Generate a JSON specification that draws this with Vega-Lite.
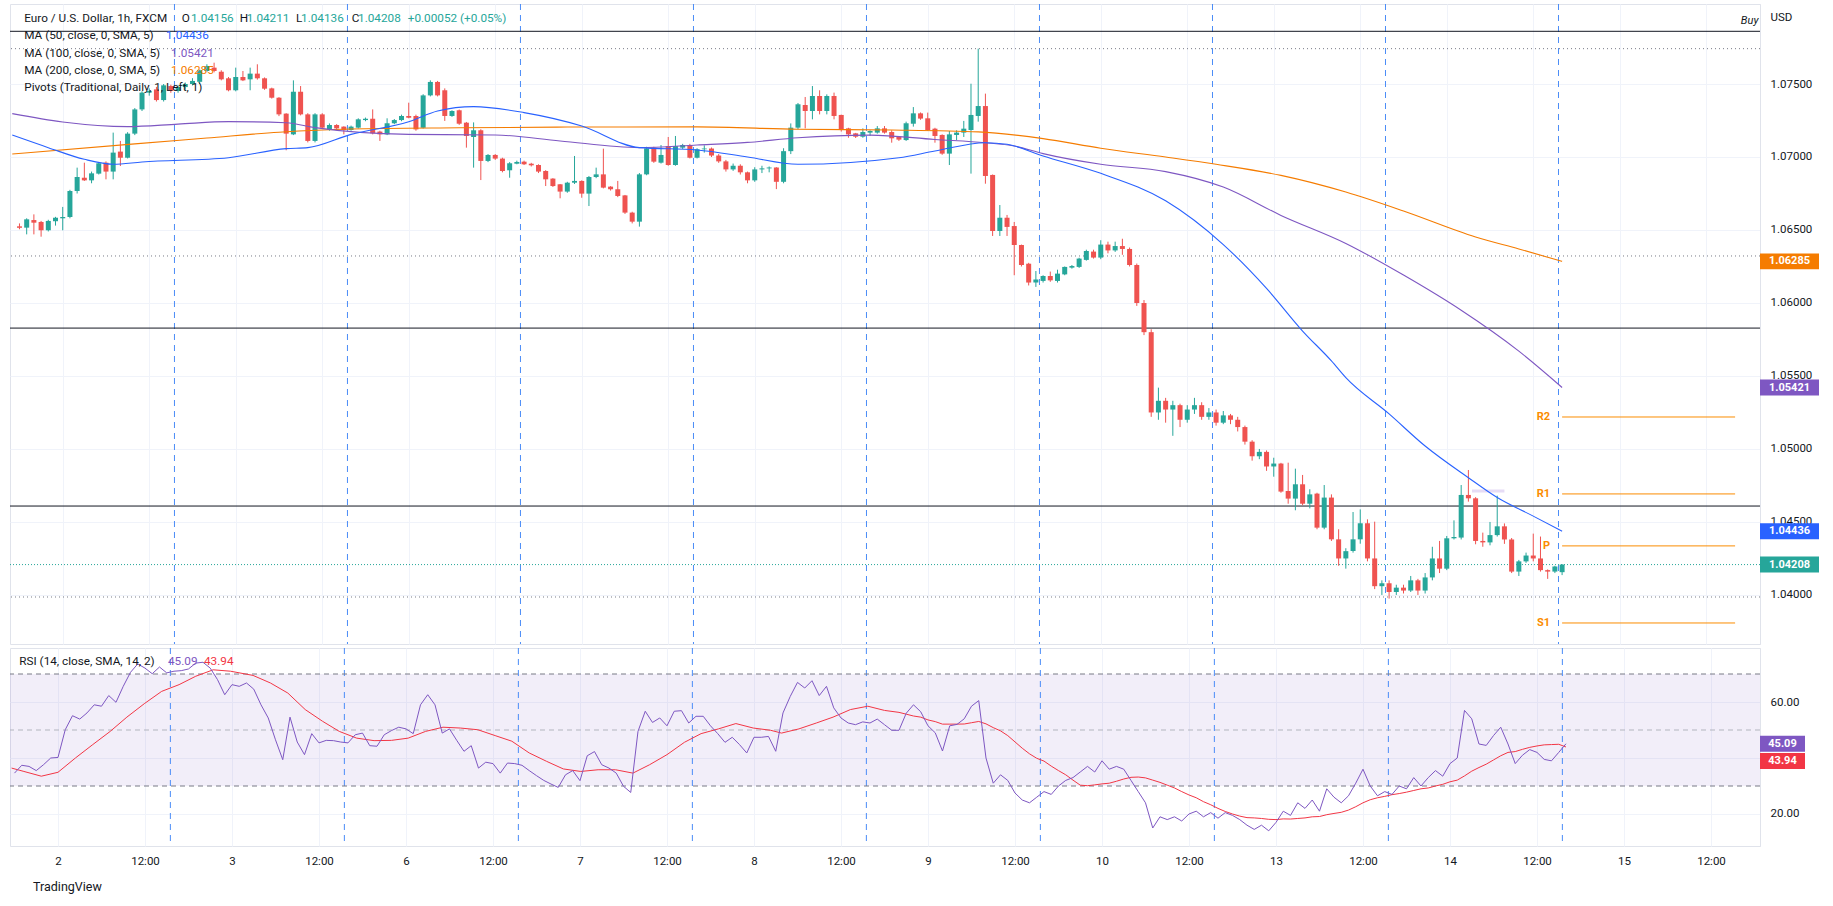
{
  "$schema": "https://vega.github.io/schema/vega-lite/v6.json",
  "background": "#ffffff",
  "padding": {"left": 9, "top": 3, "right": 5, "bottom": 5},
  "spacing": 2,
  "config": {"font": "Roboto", "view": {"stroke": "#E0E3EB", "strokeWidth": 1}},
  "title": {"text": "TradingView", "orient": "bottom", "anchor": "start", "fontSize": 12.5, "fontWeight": "normal", "color": "#131722", "offset": 14, "dx": 24, "font": "Roboto"},
  "datasets": {
    "candles": [
      {"i":-6,"o":1.06525,"h":1.06545,"l":1.06505,"c":1.06515},
      {"i":-5,"o":1.06516,"h":1.0658,"l":1.0647,"c":1.06573},
      {"i":-4,"o":1.06568,"h":1.06607,"l":1.0647,"c":1.0655},
      {"i":-3,"o":1.06555,"h":1.06562,"l":1.06454,"c":1.06498},
      {"i":-2,"o":1.06498,"h":1.0657,"l":1.0649,"c":1.06562},
      {"i":-1,"o":1.0656,"h":1.0659,"l":1.0653,"c":1.06584},
      {"i":0,"o":1.0658,"h":1.06658,"l":1.06498,"c":1.06589},
      {"i":1,"o":1.06589,"h":1.06775,"l":1.0658,"c":1.06767},
      {"i":2,"o":1.06767,"h":1.06927,"l":1.0675,"c":1.06863},
      {"i":3,"o":1.06858,"h":1.06961,"l":1.06836,"c":1.0684},
      {"i":4,"o":1.0684,"h":1.069,"l":1.0682,"c":1.06888},
      {"i":5,"o":1.06886,"h":1.06965,"l":1.0688,"c":1.06957},
      {"i":6,"o":1.06961,"h":1.0697,"l":1.06847,"c":1.069},
      {"i":7,"o":1.069,"h":1.07167,"l":1.06847,"c":1.0703},
      {"i":8,"o":1.07037,"h":1.0711,"l":1.06938,"c":1.06995},
      {"i":9,"o":1.06995,"h":1.0717,"l":1.0699,"c":1.0716},
      {"i":10,"o":1.0716,"h":1.07335,"l":1.0715,"c":1.07326},
      {"i":11,"o":1.07326,"h":1.0745,"l":1.07315,"c":1.07441},
      {"i":12,"o":1.07441,"h":1.0747,"l":1.0742,"c":1.07452},
      {"i":13,"o":1.07463,"h":1.0748,"l":1.0738,"c":1.0739},
      {"i":14,"o":1.0739,"h":1.075,"l":1.0738,"c":1.07491},
      {"i":15,"o":1.07486,"h":1.07495,"l":1.0744,"c":1.07452},
      {"i":16,"o":1.07452,"h":1.0749,"l":1.0744,"c":1.07479},
      {"i":17,"o":1.07479,"h":1.0751,"l":1.0746,"c":1.075},
      {"i":18,"o":1.075,"h":1.0754,"l":1.0749,"c":1.07521},
      {"i":19,"o":1.07515,"h":1.076,"l":1.075,"c":1.07594},
      {"i":20,"o":1.07589,"h":1.07635,"l":1.0758,"c":1.07623},
      {"i":21,"o":1.07612,"h":1.07646,"l":1.0758,"c":1.07589},
      {"i":22,"o":1.07584,"h":1.07594,"l":1.07525,"c":1.07532},
      {"i":23,"o":1.07539,"h":1.07548,"l":1.0745,"c":1.07457},
      {"i":24,"o":1.07457,"h":1.07612,"l":1.0745,"c":1.07548},
      {"i":25,"o":1.07548,"h":1.07589,"l":1.0752,"c":1.07525},
      {"i":26,"o":1.07532,"h":1.07612,"l":1.07457,"c":1.07571},
      {"i":27,"o":1.07571,"h":1.07635,"l":1.0753,"c":1.07539},
      {"i":28,"o":1.07539,"h":1.07545,"l":1.0746,"c":1.07468},
      {"i":29,"o":1.0747,"h":1.07475,"l":1.074,"c":1.07406},
      {"i":30,"o":1.07406,"h":1.0741,"l":1.0728,"c":1.07292},
      {"i":31,"o":1.07297,"h":1.073,"l":1.07046,"c":1.0716},
      {"i":32,"o":1.07155,"h":1.07525,"l":1.0715,"c":1.07447},
      {"i":33,"o":1.07447,"h":1.07486,"l":1.07285,"c":1.07292},
      {"i":34,"o":1.07292,"h":1.073,"l":1.071,"c":1.0711},
      {"i":35,"o":1.0711,"h":1.073,"l":1.071,"c":1.07292},
      {"i":36,"o":1.07292,"h":1.073,"l":1.07195,"c":1.07201},
      {"i":37,"o":1.07189,"h":1.0723,"l":1.0718,"c":1.07219},
      {"i":38,"o":1.07219,"h":1.07225,"l":1.07185,"c":1.07196},
      {"i":39,"o":1.07208,"h":1.0721,"l":1.07155,"c":1.07185},
      {"i":40,"o":1.07185,"h":1.07215,"l":1.0718,"c":1.07208},
      {"i":41,"o":1.07201,"h":1.07265,"l":1.07195,"c":1.07258},
      {"i":42,"o":1.07253,"h":1.0727,"l":1.07245,"c":1.07262},
      {"i":43,"o":1.07262,"h":1.07326,"l":1.07155,"c":1.07162},
      {"i":44,"o":1.07174,"h":1.0718,"l":1.0711,"c":1.07155},
      {"i":45,"o":1.07155,"h":1.07265,"l":1.0715,"c":1.07231},
      {"i":46,"o":1.07231,"h":1.0726,"l":1.07225,"c":1.07253},
      {"i":47,"o":1.07253,"h":1.0729,"l":1.07245,"c":1.07281},
      {"i":48,"o":1.07281,"h":1.07372,"l":1.07265,"c":1.07269},
      {"i":49,"o":1.07281,"h":1.0729,"l":1.0718,"c":1.07189},
      {"i":50,"o":1.072,"h":1.0743,"l":1.07195,"c":1.07422},
      {"i":51,"o":1.07422,"h":1.07525,"l":1.07415,"c":1.07514},
      {"i":52,"o":1.07514,"h":1.07521,"l":1.07415,"c":1.07422},
      {"i":53,"o":1.07457,"h":1.0747,"l":1.07247,"c":1.07281},
      {"i":54,"o":1.07281,"h":1.0732,"l":1.07275,"c":1.07315},
      {"i":55,"o":1.0732,"h":1.07325,"l":1.0722,"c":1.07228},
      {"i":56,"o":1.07235,"h":1.0724,"l":1.07064,"c":1.07144},
      {"i":57,"o":1.07137,"h":1.07237,"l":1.06927,"c":1.07183},
      {"i":58,"o":1.07183,"h":1.0719,"l":1.06842,"c":1.06973},
      {"i":59,"o":1.06973,"h":1.0702,"l":1.06965,"c":1.07014},
      {"i":60,"o":1.07014,"h":1.0702,"l":1.0698,"c":1.06989},
      {"i":61,"o":1.06989,"h":1.06995,"l":1.06895,"c":1.06904},
      {"i":62,"o":1.06909,"h":1.06965,"l":1.06858,"c":1.06957},
      {"i":63,"o":1.06954,"h":1.06975,"l":1.0695,"c":1.06966},
      {"i":64,"o":1.06968,"h":1.06975,"l":1.06945,"c":1.0695},
      {"i":65,"o":1.06954,"h":1.0696,"l":1.06935,"c":1.06943},
      {"i":66,"o":1.06945,"h":1.0695,"l":1.0689,"c":1.069},
      {"i":67,"o":1.06904,"h":1.0691,"l":1.06801,"c":1.06847},
      {"i":68,"o":1.06852,"h":1.06855,"l":1.06795,"c":1.06801},
      {"i":69,"o":1.06813,"h":1.06815,"l":1.06717,"c":1.06763},
      {"i":70,"o":1.06763,"h":1.0683,"l":1.06755,"c":1.06824},
      {"i":71,"o":1.06824,"h":1.07007,"l":1.06815,"c":1.06836},
      {"i":72,"o":1.06836,"h":1.0684,"l":1.06721,"c":1.06749},
      {"i":73,"o":1.06749,"h":1.0687,"l":1.06664,"c":1.06863},
      {"i":74,"o":1.06863,"h":1.06927,"l":1.06855,"c":1.06881},
      {"i":75,"o":1.06881,"h":1.07057,"l":1.06785,"c":1.0679},
      {"i":76,"o":1.06797,"h":1.068,"l":1.0677,"c":1.06779},
      {"i":77,"o":1.06779,"h":1.06836,"l":1.06725,"c":1.06733},
      {"i":78,"o":1.06737,"h":1.0674,"l":1.0661,"c":1.06619},
      {"i":79,"o":1.06619,"h":1.06625,"l":1.06545,"c":1.06557},
      {"i":80,"o":1.06557,"h":1.0689,"l":1.06523,"c":1.06881},
      {"i":81,"o":1.06881,"h":1.0707,"l":1.06875,"c":1.07059},
      {"i":82,"o":1.07064,"h":1.0707,"l":1.0696,"c":1.06968},
      {"i":83,"o":1.06961,"h":1.07082,"l":1.06955,"c":1.07014},
      {"i":84,"o":1.07075,"h":1.07137,"l":1.0694,"c":1.06945},
      {"i":85,"o":1.06945,"h":1.07144,"l":1.0694,"c":1.07075},
      {"i":86,"o":1.07064,"h":1.0709,"l":1.07055,"c":1.07082},
      {"i":87,"o":1.07082,"h":1.0709,"l":1.0699,"c":1.06995},
      {"i":88,"o":1.06995,"h":1.0706,"l":1.0699,"c":1.07053},
      {"i":89,"o":1.07053,"h":1.0708,"l":1.0703,"c":1.07058},
      {"i":90,"o":1.07058,"h":1.07065,"l":1.07,"c":1.0701},
      {"i":91,"o":1.0701,"h":1.0702,"l":1.0696,"c":1.0697},
      {"i":92,"o":1.0697,"h":1.0698,"l":1.069,"c":1.06915},
      {"i":93,"o":1.06915,"h":1.06955,"l":1.06905,"c":1.0694},
      {"i":94,"o":1.0694,"h":1.0695,"l":1.0688,"c":1.06895},
      {"i":95,"o":1.06895,"h":1.069,"l":1.0682,"c":1.0684},
      {"i":96,"o":1.0684,"h":1.0693,"l":1.0683,"c":1.06915},
      {"i":97,"o":1.06915,"h":1.0694,"l":1.0689,"c":1.06922},
      {"i":98,"o":1.06922,"h":1.06935,"l":1.06895,"c":1.06928},
      {"i":99,"o":1.06928,"h":1.0693,"l":1.0678,"c":1.0683},
      {"i":100,"o":1.0683,"h":1.0706,"l":1.0682,"c":1.0704},
      {"i":101,"o":1.0704,"h":1.0723,"l":1.0702,"c":1.07201},
      {"i":102,"o":1.07201,"h":1.0737,"l":1.0719,"c":1.07361},
      {"i":103,"o":1.07356,"h":1.07411,"l":1.07196,"c":1.07315},
      {"i":104,"o":1.07315,"h":1.07486,"l":1.07258,"c":1.07418},
      {"i":105,"o":1.07418,"h":1.07457,"l":1.07292,"c":1.07315},
      {"i":106,"o":1.07315,"h":1.07429,"l":1.07292,"c":1.07418},
      {"i":107,"o":1.07418,"h":1.07441,"l":1.07258,"c":1.07281},
      {"i":108,"o":1.07288,"h":1.0729,"l":1.07174,"c":1.07189},
      {"i":109,"o":1.07196,"h":1.072,"l":1.07132,"c":1.07155},
      {"i":110,"o":1.07162,"h":1.07165,"l":1.0713,"c":1.07139},
      {"i":111,"o":1.07139,"h":1.07196,"l":1.07132,"c":1.07171},
      {"i":112,"o":1.07167,"h":1.07183,"l":1.07144,"c":1.07178},
      {"i":113,"o":1.07167,"h":1.07212,"l":1.0716,"c":1.07196},
      {"i":114,"o":1.07196,"h":1.07212,"l":1.0716,"c":1.07167},
      {"i":115,"o":1.07171,"h":1.07183,"l":1.07098,"c":1.07128},
      {"i":116,"o":1.07139,"h":1.0714,"l":1.0711,"c":1.07119},
      {"i":117,"o":1.07116,"h":1.07242,"l":1.0711,"c":1.07231},
      {"i":118,"o":1.07228,"h":1.07342,"l":1.07208,"c":1.07299},
      {"i":119,"o":1.07299,"h":1.07305,"l":1.07255,"c":1.07263},
      {"i":120,"o":1.07265,"h":1.07304,"l":1.0718,"c":1.07185},
      {"i":121,"o":1.07194,"h":1.072,"l":1.07098,"c":1.07144},
      {"i":122,"o":1.07151,"h":1.07155,"l":1.07015,"c":1.07023},
      {"i":123,"o":1.07023,"h":1.07178,"l":1.06945,"c":1.07155},
      {"i":124,"o":1.07151,"h":1.07183,"l":1.07116,"c":1.07167},
      {"i":125,"o":1.07167,"h":1.07247,"l":1.07137,"c":1.07194},
      {"i":126,"o":1.07185,"h":1.07502,"l":1.06886,"c":1.07288},
      {"i":127,"o":1.07281,"h":1.07742,"l":1.07242,"c":1.07349},
      {"i":128,"o":1.07349,"h":1.07434,"l":1.06817,"c":1.0687},
      {"i":129,"o":1.06877,"h":1.0688,"l":1.06459,"c":1.06493},
      {"i":130,"o":1.06493,"h":1.06671,"l":1.06459,"c":1.06584},
      {"i":131,"o":1.06584,"h":1.06603,"l":1.06459,"c":1.06521},
      {"i":132,"o":1.06527,"h":1.06555,"l":1.0619,"c":1.06397},
      {"i":133,"o":1.06397,"h":1.064,"l":1.0625,"c":1.0626},
      {"i":134,"o":1.06269,"h":1.06275,"l":1.0612,"c":1.0614},
      {"i":135,"o":1.0614,"h":1.06219,"l":1.0611,"c":1.0616},
      {"i":136,"o":1.06151,"h":1.0619,"l":1.0614,"c":1.06185},
      {"i":137,"o":1.06185,"h":1.06215,"l":1.06145,"c":1.06155},
      {"i":138,"o":1.06151,"h":1.06228,"l":1.0614,"c":1.06201},
      {"i":139,"o":1.06196,"h":1.0625,"l":1.0619,"c":1.06247},
      {"i":140,"o":1.06242,"h":1.0626,"l":1.06235,"c":1.06253},
      {"i":141,"o":1.06247,"h":1.0631,"l":1.0624,"c":1.06304},
      {"i":142,"o":1.06295,"h":1.06365,"l":1.0629,"c":1.06356},
      {"i":143,"o":1.06352,"h":1.06365,"l":1.06304,"c":1.06311},
      {"i":144,"o":1.06311,"h":1.0643,"l":1.063,"c":1.064},
      {"i":145,"o":1.064,"h":1.0642,"l":1.0634,"c":1.0636},
      {"i":146,"o":1.0636,"h":1.0642,"l":1.0635,"c":1.0639},
      {"i":147,"o":1.0639,"h":1.0644,"l":1.0633,"c":1.0637},
      {"i":148,"o":1.0637,"h":1.0638,"l":1.0625,"c":1.0626},
      {"i":149,"o":1.0626,"h":1.0627,"l":1.0598,"c":1.06},
      {"i":150,"o":1.06,"h":1.0602,"l":1.0578,"c":1.058},
      {"i":151,"o":1.058,"h":1.0582,"l":1.0522,"c":1.0525},
      {"i":152,"o":1.0525,"h":1.0542,"l":1.052,"c":1.0533},
      {"i":153,"o":1.0533,"h":1.0535,"l":1.0518,"c":1.0527},
      {"i":154,"o":1.0527,"h":1.0533,"l":1.0509,"c":1.053},
      {"i":155,"o":1.053,"h":1.0531,"l":1.0515,"c":1.052},
      {"i":156,"o":1.052,"h":1.053,"l":1.0518,"c":1.0527},
      {"i":157,"o":1.0527,"h":1.0535,"l":1.0524,"c":1.053},
      {"i":158,"o":1.053,"h":1.0532,"l":1.052,"c":1.0522},
      {"i":159,"o":1.0522,"h":1.0528,"l":1.052,"c":1.0525},
      {"i":160,"o":1.0525,"h":1.0527,"l":1.0516,"c":1.0518},
      {"i":161,"o":1.0518,"h":1.0526,"l":1.0517,"c":1.0523},
      {"i":162,"o":1.0523,"h":1.0524,"l":1.0517,"c":1.052},
      {"i":163,"o":1.052,"h":1.0522,"l":1.0512,"c":1.0515},
      {"i":164,"o":1.0515,"h":1.0516,"l":1.0503,"c":1.0505},
      {"i":165,"o":1.0505,"h":1.0506,"l":1.0492,"c":1.0495},
      {"i":166,"o":1.0495,"h":1.05,"l":1.0493,"c":1.0498},
      {"i":167,"o":1.0498,"h":1.0499,"l":1.0485,"c":1.0488},
      {"i":168,"o":1.0488,"h":1.0494,"l":1.0481,"c":1.049},
      {"i":169,"o":1.049,"h":1.04905,"l":1.047,"c":1.04708},
      {"i":170,"o":1.04712,"h":1.04906,"l":1.04625,"c":1.0466},
      {"i":171,"o":1.0466,"h":1.04865,"l":1.0458,"c":1.04758},
      {"i":172,"o":1.04758,"h":1.04822,"l":1.04615,"c":1.04625},
      {"i":173,"o":1.04625,"h":1.04724,"l":1.04593,"c":1.04689},
      {"i":174,"o":1.04694,"h":1.047,"l":1.0445,"c":1.04461},
      {"i":175,"o":1.04461,"h":1.04753,"l":1.0445,"c":1.04667},
      {"i":176,"o":1.04667,"h":1.04689,"l":1.0437,"c":1.04381},
      {"i":177,"o":1.04381,"h":1.0445,"l":1.042,"c":1.0425},
      {"i":178,"o":1.0425,"h":1.0432,"l":1.0418,"c":1.043},
      {"i":179,"o":1.04301,"h":1.04568,"l":1.0429,"c":1.04381},
      {"i":180,"o":1.04381,"h":1.04586,"l":1.04351,"c":1.04491},
      {"i":181,"o":1.04491,"h":1.04518,"l":1.0423,"c":1.0425},
      {"i":182,"o":1.0425,"h":1.04502,"l":1.0404,"c":1.0406},
      {"i":183,"o":1.0406,"h":1.041,"l":1.04,"c":1.0408},
      {"i":184,"o":1.0408,"h":1.041,"l":1.03975,"c":1.0402},
      {"i":185,"o":1.0402,"h":1.0407,"l":1.04,"c":1.0405},
      {"i":186,"o":1.0405,"h":1.0407,"l":1.0401,"c":1.0403},
      {"i":187,"o":1.0403,"h":1.0413,"l":1.0402,"c":1.041},
      {"i":188,"o":1.041,"h":1.0411,"l":1.04,"c":1.0403},
      {"i":189,"o":1.0403,"h":1.0415,"l":1.0401,"c":1.0412},
      {"i":190,"o":1.0412,"h":1.0433,"l":1.041,"c":1.0425},
      {"i":191,"o":1.0425,"h":1.0437,"l":1.0415,"c":1.0418},
      {"i":192,"o":1.0418,"h":1.04404,"l":1.0417,"c":1.04388},
      {"i":193,"o":1.04388,"h":1.04511,"l":1.0438,"c":1.04397},
      {"i":194,"o":1.04393,"h":1.04753,"l":1.0438,"c":1.04685},
      {"i":195,"o":1.04685,"h":1.04856,"l":1.04639,"c":1.04662},
      {"i":196,"o":1.04662,"h":1.0467,"l":1.04347,"c":1.0437},
      {"i":197,"o":1.0437,"h":1.04427,"l":1.0433,"c":1.0436},
      {"i":198,"o":1.0436,"h":1.045,"l":1.0434,"c":1.0441},
      {"i":199,"o":1.0441,"h":1.0468,"l":1.044,"c":1.0447},
      {"i":200,"o":1.0447,"h":1.0449,"l":1.0435,"c":1.0438},
      {"i":201,"o":1.0438,"h":1.0439,"l":1.0415,"c":1.0416},
      {"i":202,"o":1.0416,"h":1.0424,"l":1.0413,"c":1.0423},
      {"i":203,"o":1.0423,"h":1.0429,"l":1.0422,"c":1.0427},
      {"i":204,"o":1.0427,"h":1.0442,"l":1.0423,"c":1.0425},
      {"i":205,"o":1.0425,"h":1.044,"l":1.0416,"c":1.0417},
      {"i":206,"o":1.0417,"h":1.04175,"l":1.0411,"c":1.0416},
      {"i":207,"o":1.0416,"h":1.042,"l":1.0415,"c":1.04195},
      {"i":208,"o":1.04156,"h":1.04211,"l":1.04136,"c":1.04208}
    ],
    "ma": [
      {"i":-7,"v":1.0702,"role":"orange"},{"i":10,"v":1.0709,"role":"orange"},{"i":20,"v":1.0713,"role":"orange"},{"i":30,"v":1.0717,"role":"orange"},{"i":40,"v":1.07192,"role":"orange"},{"i":55,"v":1.072,"role":"orange"},{"i":70,"v":1.07205,"role":"orange"},{"i":88,"v":1.07206,"role":"orange"},{"i":102,"v":1.0719,"role":"orange"},{"i":115,"v":1.07185,"role":"orange"},{"i":127,"v":1.07172,"role":"orange"},{"i":136,"v":1.07126,"role":"orange"},{"i":144,"v":1.0706,"role":"orange"},{"i":153,"v":1.07,"role":"orange"},{"i":160,"v":1.0695,"role":"orange"},{"i":169,"v":1.06874,"role":"orange"},{"i":178,"v":1.0676,"role":"orange"},{"i":186,"v":1.0663,"role":"orange"},{"i":196,"v":1.06452,"role":"orange"},{"i":202,"v":1.0637,"role":"orange"},{"i":208,"v":1.06285,"role":"orange"},
      {"i":-7,"v":1.07297,"role":"purple"},{"i":0,"v":1.0724,"role":"purple"},{"i":9,"v":1.07208,"role":"purple"},{"i":16,"v":1.07225,"role":"purple"},{"i":23,"v":1.07242,"role":"purple"},{"i":31,"v":1.07235,"role":"purple"},{"i":35,"v":1.07201,"role":"purple"},{"i":48,"v":1.07155,"role":"purple"},{"i":60,"v":1.07151,"role":"purple"},{"i":69,"v":1.0711,"role":"purple"},{"i":80,"v":1.07064,"role":"purple"},{"i":88,"v":1.07082,"role":"purple"},{"i":95,"v":1.071,"role":"purple"},{"i":102,"v":1.07132,"role":"purple"},{"i":112,"v":1.0715,"role":"purple"},{"i":121,"v":1.0712,"role":"purple"},{"i":128,"v":1.07098,"role":"purple"},{"i":132,"v":1.07075,"role":"purple"},{"i":136,"v":1.07023,"role":"purple"},{"i":144,"v":1.0695,"role":"purple"},{"i":153,"v":1.069,"role":"purple"},{"i":161,"v":1.06794,"role":"purple"},{"i":169,"v":1.066,"role":"purple"},{"i":178,"v":1.06408,"role":"purple"},{"i":186,"v":1.06191,"role":"purple"},{"i":194,"v":1.0595,"role":"purple"},{"i":202,"v":1.0567,"role":"purple"},{"i":208,"v":1.05421,"role":"purple"},
      {"i":-7,"v":1.0715,"role":"blue"},{"i":-2,"v":1.07064,"role":"blue"},{"i":3,"v":1.06984,"role":"blue"},{"i":7,"v":1.0695,"role":"blue"},{"i":11,"v":1.06966,"role":"blue"},{"i":23,"v":1.06995,"role":"blue"},{"i":31,"v":1.07057,"role":"blue"},{"i":34,"v":1.07064,"role":"blue"},{"i":40,"v":1.07155,"role":"blue"},{"i":48,"v":1.07242,"role":"blue"},{"i":52,"v":1.07315,"role":"blue"},{"i":57,"v":1.07345,"role":"blue"},{"i":64,"v":1.07304,"role":"blue"},{"i":72,"v":1.07212,"role":"blue"},{"i":80,"v":1.07064,"role":"blue"},{"i":88,"v":1.07048,"role":"blue"},{"i":95,"v":1.07,"role":"blue"},{"i":102,"v":1.0695,"role":"blue"},{"i":116,"v":1.06995,"role":"blue"},{"i":121,"v":1.07041,"role":"blue"},{"i":128,"v":1.07098,"role":"blue"},{"i":131,"v":1.07087,"role":"blue"},{"i":136,"v":1.07007,"role":"blue"},{"i":144,"v":1.06888,"role":"blue"},{"i":153,"v":1.067,"role":"blue"},{"i":161,"v":1.064,"role":"blue"},{"i":167,"v":1.061,"role":"blue"},{"i":172,"v":1.05808,"role":"blue"},{"i":176,"v":1.05603,"role":"blue"},{"i":178,"v":1.05488,"role":"blue"},{"i":184,"v":1.0524,"role":"blue"},{"i":189,"v":1.0502,"role":"blue"},{"i":195,"v":1.04803,"role":"blue"},{"i":199,"v":1.04667,"role":"blue"},{"i":204,"v":1.0454,"role":"blue"},{"i":208,"v":1.04436,"role":"blue"}
    ],
    "rsi": [
      {"i":-6,"r":34.6},{"i":-5,"r":37.4},{"i":-4,"r":37},{"i":-3,"r":35.5},{"i":-2,"r":37.6},{"i":-1,"r":40},{"i":0,"r":40.2},{"i":1,"r":50.1},{"i":2,"r":55.1},{"i":3,"r":53.9},{"i":4,"r":56.1},{"i":5,"r":59},{"i":6,"r":58.5},{"i":7,"r":62.3},{"i":8,"r":59.9},{"i":9,"r":65.6},{"i":10,"r":70.6},{"i":11,"r":73.6},{"i":12,"r":72.1},{"i":13,"r":70.1},{"i":14,"r":72.5},{"i":15,"r":70.4},{"i":16,"r":71},{"i":17,"r":71.2},{"i":18,"r":71.8},{"i":19,"r":73.9},{"i":20,"r":74.2},{"i":21,"r":72.1},{"i":22,"r":68},{"i":23,"r":62.6},{"i":24,"r":66.2},{"i":25,"r":65.6},{"i":26,"r":66.8},{"i":27,"r":64.6},{"i":28,"r":59},{"i":29,"r":54.3},{"i":30,"r":46.5},{"i":31,"r":39.4},{"i":32,"r":54.6},{"i":33,"r":45.7},{"i":34,"r":41.2},{"i":35,"r":48.7},{"i":36,"r":45.4},{"i":37,"r":46.3},{"i":38,"r":46.2},{"i":39,"r":45.7},{"i":40,"r":45.4},{"i":41,"r":48.3},{"i":42,"r":48.9},{"i":43,"r":44.4},{"i":44,"r":44.2},{"i":45,"r":48.3},{"i":46,"r":49.8},{"i":47,"r":51},{"i":48,"r":50.4},{"i":49,"r":48.7},{"i":50,"r":59},{"i":51,"r":62.6},{"i":52,"r":59},{"i":53,"r":48.9},{"i":54,"r":50.4},{"i":55,"r":46.3},{"i":56,"r":42.4},{"i":57,"r":44.4},{"i":58,"r":36.4},{"i":59,"r":38.5},{"i":60,"r":38},{"i":61,"r":34.6},{"i":62,"r":38.2},{"i":63,"r":38},{"i":64,"r":37.4},{"i":65,"r":35.5},{"i":66,"r":33.7},{"i":67,"r":32},{"i":68,"r":30.7},{"i":69,"r":29.5},{"i":70,"r":34},{"i":71,"r":35.5},{"i":72,"r":31.9},{"i":73,"r":40.8},{"i":74,"r":42.3},{"i":75,"r":37.6},{"i":76,"r":36.4},{"i":77,"r":34.6},{"i":78,"r":29.9},{"i":79,"r":27.7},{"i":80,"r":49.5},{"i":81,"r":56.7},{"i":82,"r":52.7},{"i":83,"r":54.3},{"i":84,"r":51.5},{"i":85,"r":56.7},{"i":86,"r":56.9},{"i":87,"r":52.5},{"i":88,"r":54.9},{"i":89,"r":54.9},{"i":90,"r":51.5},{"i":91,"r":48.7},{"i":92,"r":45.6},{"i":93,"r":47.4},{"i":94,"r":44.8},{"i":95,"r":41.8},{"i":96,"r":47.4},{"i":97,"r":47.4},{"i":98,"r":47.7},{"i":99,"r":42.4},{"i":100,"r":56.1},{"i":101,"r":62},{"i":102,"r":67},{"i":103,"r":65},{"i":104,"r":67.6},{"i":105,"r":62.3},{"i":106,"r":65.6},{"i":107,"r":57.9},{"i":108,"r":54.3},{"i":109,"r":52.5},{"i":110,"r":51.9},{"i":111,"r":52.9},{"i":112,"r":52.5},{"i":113,"r":53.9},{"i":114,"r":51.9},{"i":115,"r":49.9},{"i":116,"r":49.9},{"i":117,"r":56},{"i":118,"r":59},{"i":119,"r":56.5},{"i":120,"r":51.5},{"i":121,"r":49},{"i":122,"r":42.5},{"i":123,"r":51.5},{"i":124,"r":52},{"i":125,"r":54},{"i":126,"r":58.5},{"i":127,"r":60.5},{"i":128,"r":40},{"i":129,"r":31},{"i":130,"r":34},{"i":131,"r":32},{"i":132,"r":27.5},{"i":133,"r":25},{"i":134,"r":24},{"i":135,"r":26},{"i":136,"r":28},{"i":137,"r":27},{"i":138,"r":30},{"i":139,"r":32},{"i":140,"r":33},{"i":141,"r":35},{"i":142,"r":37},{"i":143,"r":35},{"i":144,"r":39},{"i":145,"r":36},{"i":146,"r":37},{"i":147,"r":36},{"i":148,"r":32},{"i":149,"r":28},{"i":150,"r":24},{"i":151,"r":15},{"i":152,"r":19},{"i":153,"r":18},{"i":154,"r":19},{"i":155,"r":17.5},{"i":156,"r":20},{"i":157,"r":21},{"i":158,"r":19},{"i":159,"r":20.5},{"i":160,"r":18.5},{"i":161,"r":20.5},{"i":162,"r":19.5},{"i":163,"r":18},{"i":164,"r":16},{"i":165,"r":14.5},{"i":166,"r":16},{"i":167,"r":14},{"i":168,"r":17},{"i":169,"r":21},{"i":170,"r":19.5},{"i":171,"r":24},{"i":172,"r":22},{"i":173,"r":25},{"i":174,"r":21},{"i":175,"r":29},{"i":176,"r":26},{"i":177,"r":24},{"i":178,"r":26.5},{"i":179,"r":31},{"i":180,"r":36},{"i":181,"r":30},{"i":182,"r":26.5},{"i":183,"r":28},{"i":184,"r":27},{"i":185,"r":30},{"i":186,"r":29},{"i":187,"r":33},{"i":188,"r":30},{"i":189,"r":33},{"i":190,"r":35.5},{"i":191,"r":33.5},{"i":192,"r":38},{"i":193,"r":40},{"i":194,"r":57},{"i":195,"r":54},{"i":196,"r":45},{"i":197,"r":44.5},{"i":198,"r":48},{"i":199,"r":51},{"i":200,"r":45},{"i":201,"r":38},{"i":202,"r":41},{"i":203,"r":43},{"i":204,"r":42},{"i":205,"r":39.5},{"i":206,"r":39},{"i":207,"r":42},{"i":208,"r":45.09}
    ],
    "rsima": [
      {"i":-6.4,"r":36.4},{"i":-4.7,"r":35.2},{"i":-2.3,"r":33.5},{"i":0,"r":34.9},{"i":2.4,"r":40},{"i":4.8,"r":44.8},{"i":7.2,"r":49.5},{"i":9.5,"r":54.6},{"i":11.9,"r":59.4},{"i":14.3,"r":63.8},{"i":16.7,"r":66.2},{"i":19,"r":69.2},{"i":21.4,"r":71.5},{"i":23.8,"r":71},{"i":26.9,"r":69.5},{"i":29.3,"r":66.8},{"i":31.7,"r":63.2},{"i":34.1,"r":57.3},{"i":36.5,"r":53.1},{"i":38.8,"r":49.5},{"i":41.2,"r":47.1},{"i":43.6,"r":46.2},{"i":46,"r":46.3},{"i":48.3,"r":47.1},{"i":50.7,"r":49.5},{"i":53.1,"r":51},{"i":55.5,"r":50.7},{"i":57.9,"r":50.1},{"i":60.3,"r":48},{"i":62.6,"r":46},{"i":65,"r":41.8},{"i":67.4,"r":38.8},{"i":69.7,"r":36.1},{"i":72.1,"r":35.2},{"i":74.5,"r":35.8},{"i":76.9,"r":35.8},{"i":79.3,"r":34.6},{"i":81.6,"r":37.6},{"i":84,"r":41.2},{"i":86.4,"r":45.6},{"i":88.7,"r":48.7},{"i":91.1,"r":50.4},{"i":93.5,"r":52.3},{"i":95.9,"r":50.7},{"i":98.3,"r":49.9},{"i":99.8,"r":48.9},{"i":102.2,"r":50.4},{"i":104.6,"r":52.5},{"i":106.9,"r":54.6},{"i":109.3,"r":57.3},{"i":111.7,"r":58.5},{"i":114,"r":57},{"i":116,"r":56.3},{"i":117,"r":55.65},{"i":118,"r":55},{"i":119,"r":54.6},{"i":120,"r":53.6},{"i":121,"r":53},{"i":122,"r":52.1},{"i":123,"r":52.1},{"i":124,"r":52.1},{"i":125,"r":52.15},{"i":126,"r":52.6},{"i":127,"r":53.05},{"i":128,"r":52.2},{"i":129,"r":50.85},{"i":130,"r":49.7},{"i":131,"r":48},{"i":132,"r":45.75},{"i":133,"r":43.5},{"i":134,"r":41.5},{"i":135,"r":39.9},{"i":136,"r":38.9},{"i":137,"r":37.1},{"i":138,"r":35.5},{"i":139,"r":34},{"i":140,"r":32.1},{"i":141,"r":30.3},{"i":142,"r":30.1},{"i":143,"r":30.4},{"i":144,"r":30.75},{"i":145,"r":31},{"i":146,"r":31.7},{"i":147,"r":32.5},{"i":148,"r":33.1},{"i":149,"r":33.2},{"i":150,"r":32.9},{"i":151,"r":32.1},{"i":152,"r":31.3},{"i":153,"r":30.3},{"i":154,"r":29.3},{"i":155,"r":28},{"i":156,"r":26.8},{"i":157,"r":25.8},{"i":158,"r":24.4},{"i":159,"r":23.3},{"i":160,"r":22},{"i":161,"r":20.9},{"i":162,"r":20},{"i":163,"r":19.25},{"i":164,"r":18.7},{"i":165,"r":18.6},{"i":166,"r":18.4},{"i":167,"r":18.1},{"i":168,"r":18},{"i":169,"r":18.25},{"i":170,"r":18.2},{"i":171,"r":18.4},{"i":172,"r":18.6},{"i":173,"r":19},{"i":174,"r":19.1},{"i":175,"r":19.75},{"i":176,"r":20.2},{"i":177,"r":20.6},{"i":178,"r":21.4},{"i":179,"r":22.6},{"i":180,"r":24},{"i":181,"r":25.1},{"i":182,"r":25.8},{"i":183,"r":26.3},{"i":184,"r":26.9},{"i":185,"r":27.3},{"i":186,"r":27.8},{"i":187,"r":28.4},{"i":188,"r":29},{"i":189,"r":29.3},{"i":190,"r":30},{"i":191,"r":30.6},{"i":192,"r":31.5},{"i":193,"r":32.1},{"i":194,"r":33.6},{"i":195,"r":35.3},{"i":196,"r":36.6},{"i":197,"r":37.8},{"i":198,"r":39.3},{"i":199,"r":40.8},{"i":200,"r":42},{"i":201,"r":42.3},{"i":202,"r":43.1},{"i":203,"r":43.8},{"i":204,"r":44.3},{"i":205,"r":44.7},{"i":206,"r":44.8},{"i":207,"r":44.9},{"i":208,"r":43.94}
    ],
    "sessions": [{"s":15.5},{"s":39.5},{"s":63.5},{"s":87.5},{"s":111.5},{"s":135.5},{"s":159.5},{"s":183.5},{"s":207.5}],
    "hl": [{"p":1.07861},{"p":1.05828},{"p":1.04609}],
    "dots": [{"p":1.07742},{"p":1.06322},{"p":1.03986}],
    "last": [{"p":1.04208}],
    "pivots": [{"name":"R2","v":1.05219,"a":208,"b":232},{"name":"R1","v":1.04692,"a":208,"b":232},{"name":"P","v":1.04336,"a":208,"b":232},{"name":"S1","v":1.03808,"a":208,"b":232}],
    "prevpiv": [{"a":195.5,"b":200,"v":1.04712}],
    "plegend": [
      {"t":"Euro / U.S. Dollar, 1h, FXCM","i":-5.34,"p":1.0795,"role":"k"},
      {"t":"O","i":16.51,"p":1.0795,"role":"k"},
      {"t":"1.04156","i":17.79,"p":1.0795,"role":"teal"},
      {"t":"H","i":24.55,"p":1.0795,"role":"k"},
      {"t":"1.04211","i":25.52,"p":1.0795,"role":"teal"},
      {"t":"L","i":32.37,"p":1.0795,"role":"k"},
      {"t":"1.04136","i":33.06,"p":1.0795,"role":"teal"},
      {"t":"C","i":40.1,"p":1.0795,"role":"k"},
      {"t":"1.04208","i":40.97,"p":1.0795,"role":"teal"},
      {"t":"+0.00052 (+0.05%)","i":47.86,"p":1.0795,"role":"teal"},
      {"t":"MA (50, close, 0, SMA, 5)","i":-5.34,"p":1.07834,"role":"k"},
      {"t":"1.04436","i":14.34,"p":1.07834,"role":"blue"},
      {"t":"MA (100, close, 0, SMA, 5)","i":-5.34,"p":1.07714,"role":"k"},
      {"t":"1.05421","i":15.03,"p":1.07714,"role":"purple"},
      {"t":"MA (200, close, 0, SMA, 5)","i":-5.34,"p":1.07596,"role":"k"},
      {"t":"1.06285","i":15.03,"p":1.07596,"role":"orange"},
      {"t":"Pivots (Traditional, Daily, 1, Left, 1)","i":-5.34,"p":1.07479,"role":"k"}
    ],
    "rlegend": [
      {"t":"RSI (14, close, SMA, 14, 2)","i":-5.34,"r":74.6,"role":"k"},
      {"t":"45.09","i":15.17,"r":74.6,"role":"purple"},
      {"t":"43.94","i":20.14,"r":74.6,"role":"red"}
    ],
    "ptags": [
      {"v":1.06285,"t":"1.06285","role":"orange"},
      {"v":1.05421,"t":"1.05421","role":"purple"},
      {"v":1.04436,"t":"1.04436","role":"blue"},
      {"v":1.04208,"t":"1.04208","role":"teal"}
    ],
    "rtag1": [{"v":45.09,"t":"45.09","role":"purple"}],
    "rtag2": [{"v":43.94,"t":"43.94","role":"red"}],
    "edges": [{"lv":70},{"lv":30}],
    "mid": [{"lv":50}],
    "band": [{"lo":30,"hi":70}],
    "buy": [{"t":"Buy","i":232.8,"p":1.07932}]
  },
  "vconcat": [
    {
      "width": 1750,
      "height": 640,
      "layer": [
        {
          "data": {"name": "sessions"},
          "mark": {"type": "rule", "color": "#4A8CF7", "strokeDash": [6, 5], "strokeWidth": 1},
          "encoding": {
            "x": {"field": "s", "type": "quantitative", "scale": {"domain": [-6.62, 234.76], "nice": false, "zero": false},
                  "axis": {"values": [0,12,24,36,48,60,72,84,96,108,120,132,144,156,168,180,192,204,216,228], "labels": false, "ticks": false, "domain": false, "grid": true, "gridColor": "#F0F3FA", "title": null}}
          }
        },
        {
          "data": {"name": "hl"},
          "mark": {"type": "rule", "color": "#131722", "strokeWidth": 1},
          "encoding": {
            "y": {"field": "p", "type": "quantitative", "scale": {"domain": [1.03664, 1.08048], "nice": false, "zero": false},
                  "axis": {"orient": "right", "values": [1.04,1.045,1.05,1.055,1.06,1.065,1.07,1.075], "format": ".5f", "title": "USD", "titleAngle": 0, "titleAlign": "left", "titleBaseline": "middle", "titleX": 10, "titleY": 13, "titleFontSize": 11.5, "titleFontWeight": "normal", "titleColor": "#131722", "titleFont": "Roboto", "labelFont": "Roboto", "labelFontSize": 11.5, "labelColor": "#131722", "labelPadding": 10, "ticks": false, "tickSize": 0, "domain": true, "domainColor": "#E0E3EB", "grid": true, "gridColor": "#F0F3FA"}}
          }
        },
        {
          "data": {"name": "dots"},
          "mark": {"type": "rule", "color": "#787B86", "strokeDash": [1, 3], "strokeWidth": 1},
          "encoding": {"y": {"field": "p", "type": "quantitative"}}
        },
        {
          "data": {"name": "last"},
          "mark": {"type": "rule", "color": "#26A69A", "strokeDash": [1, 2], "strokeWidth": 1},
          "encoding": {"y": {"field": "p", "type": "quantitative"}}
        },
        {
          "data": {"name": "candles"},
          "mark": {"type": "rule", "strokeWidth": 1},
          "encoding": {
            "x": {"field": "i", "type": "quantitative"},
            "y": {"field": "l", "type": "quantitative"},
            "y2": {"field": "h"},
            "color": {"condition": {"test": "datum.c >= datum.o", "value": "#26A69A"}, "value": "#EF5350"}
          }
        },
        {
          "data": {"name": "candles"},
          "mark": {"type": "bar"},
          "encoding": {
            "x": {"field": "i", "type": "quantitative"},
            "y": {"field": "o", "type": "quantitative"},
            "y2": {"field": "c"},
            "size": {"value": 5},
            "color": {"condition": {"test": "datum.c >= datum.o", "value": "#26A69A"}, "value": "#EF5350"}
          }
        },
        {
          "data": {"name": "prevpiv"},
          "mark": {"type": "rule", "color": "#E6DCF5", "strokeWidth": 3},
          "encoding": {"x": {"field": "a", "type": "quantitative"}, "x2": {"field": "b"}, "y": {"field": "v", "type": "quantitative"}}
        },
        {
          "data": {"name": "ma"},
          "mark": {"type": "line", "strokeWidth": 1.1, "clip": true, "interpolate": "monotone"},
          "encoding": {
            "x": {"field": "i", "type": "quantitative"},
            "y": {"field": "v", "type": "quantitative"},
            "color": {"field": "role", "type": "nominal", "scale": {"domain": ["k","teal","blue","purple","orange","red"], "range": ["#131722","#26A69A","#2962FF","#7E57C2","#F57C00","#F23645"]}, "legend": null}
          }
        },
        {
          "data": {"name": "pivots"},
          "mark": {"type": "rule", "color": "#FB8C00", "strokeWidth": 1},
          "encoding": {"x": {"field": "a", "type": "quantitative"}, "x2": {"field": "b"}, "y": {"field": "v", "type": "quantitative"}}
        },
        {
          "data": {"name": "pivots"},
          "mark": {"type": "text", "color": "#FB8C00", "align": "right", "baseline": "middle", "dx": -12, "fontSize": 11, "fontWeight": "bold", "font": "Roboto"},
          "encoding": {"x": {"field": "a", "type": "quantitative"}, "y": {"field": "v", "type": "quantitative"}, "text": {"field": "name"}}
        },
        {
          "data": {"name": "plegend"},
          "mark": {"type": "text", "align": "left", "baseline": "middle", "fontSize": 11.75, "font": "Roboto"},
          "encoding": {
            "x": {"field": "i", "type": "quantitative"},
            "y": {"field": "p", "type": "quantitative"},
            "text": {"field": "t"},
            "color": {"field": "role", "type": "nominal", "legend": null}
          }
        },
        {
          "data": {"name": "buy"},
          "mark": {"type": "text", "align": "left", "baseline": "middle", "fontSize": 11, "fontStyle": "italic", "color": "#131722", "clip": true, "font": "Roboto"},
          "encoding": {"x": {"field": "i", "type": "quantitative"}, "y": {"field": "p", "type": "quantitative"}, "text": {"field": "t"}}
        },
        {
          "data": {"name": "ptags"},
          "mark": {"type": "point", "shape": "M-1,-0.271H1V0.271H-1Z", "filled": true, "opacity": 1, "strokeWidth": 0, "xOffset": 29.5},
          "encoding": {
            "x": {"value": "width"},
            "y": {"field": "v", "type": "quantitative"},
            "size": {"value": 3481},
            "color": {"field": "role", "type": "nominal", "legend": null}
          }
        },
        {
          "data": {"name": "ptags"},
          "mark": {"type": "text", "align": "center", "baseline": "middle", "dx": 29.5, "fontSize": 11, "fontWeight": "bold", "color": "#ffffff", "font": "Roboto"},
          "encoding": {"x": {"value": "width"}, "y": {"field": "v", "type": "quantitative"}, "text": {"field": "t"}}
        }
      ]
    },
    {
      "width": 1750,
      "height": 198,
      "layer": [
        {
          "data": {"name": "band"},
          "mark": {"type": "rect", "color": "#7E57C2", "opacity": 0.1},
          "encoding": {
            "y": {"field": "lo", "type": "quantitative", "scale": {"domain": [8.57, 79.29], "nice": false, "zero": false},
                  "axis": {"orient": "right", "values": [20, 40, 60], "labelExpr": "datum.value == 40 ? '' : format(datum.value, '.2f')", "title": null, "ticks": false, "tickSize": 0, "labelPadding": 10, "labelFont": "Roboto", "labelFontSize": 11.5, "labelColor": "#131722", "grid": true, "gridColor": "#F0F3FA", "domain": true, "domainColor": "#E0E3EB"}},
            "y2": {"field": "hi"}
          }
        },
        {
          "data": {"name": "sessions"},
          "mark": {"type": "rule", "color": "#4A8CF7", "strokeDash": [6, 5], "strokeWidth": 1},
          "encoding": {
            "x": {"field": "s", "type": "quantitative", "scale": {"domain": [-6.62, 234.76], "nice": false, "zero": false},
                  "axis": {"values": [0,12,24,36,48,60,72,84,96,108,120,132,144,156,168,180,192,204,216,228], "labelExpr": "datum.value % 24 == 12 ? '12:00' : ['2','3','6','7','8','9','10','13','14','15'][floor(datum.value / 24)]", "title": null, "ticks": false, "tickSize": 0, "labelPadding": 9, "labelFont": "Roboto", "labelFontSize": 11.5, "labelColor": "#131722", "labelFlush": false, "grid": true, "gridColor": "#F0F3FA", "domain": false}}
          }
        },
        {
          "data": {"name": "edges"},
          "mark": {"type": "rule", "color": "#787B86", "strokeDash": [5, 4], "strokeWidth": 1},
          "encoding": {"y": {"field": "lv", "type": "quantitative"}}
        },
        {
          "data": {"name": "mid"},
          "mark": {"type": "rule", "color": "#B2B5BE", "strokeDash": [5, 4], "strokeWidth": 1},
          "encoding": {"y": {"field": "lv", "type": "quantitative"}}
        },
        {
          "data": {"name": "rsima"},
          "mark": {"type": "line", "color": "#F23645", "strokeWidth": 1, "clip": true},
          "encoding": {"x": {"field": "i", "type": "quantitative"}, "y": {"field": "r", "type": "quantitative"}}
        },
        {
          "data": {"name": "rsi"},
          "mark": {"type": "line", "color": "#7E57C2", "strokeWidth": 1, "clip": true},
          "encoding": {"x": {"field": "i", "type": "quantitative"}, "y": {"field": "r", "type": "quantitative"}}
        },
        {
          "data": {"name": "rlegend"},
          "mark": {"type": "text", "align": "left", "baseline": "middle", "fontSize": 11.75, "font": "Roboto"},
          "encoding": {
            "x": {"field": "i", "type": "quantitative"},
            "y": {"field": "r", "type": "quantitative"},
            "text": {"field": "t"},
            "color": {"field": "role", "type": "nominal", "scale": {"domain": ["k","teal","blue","purple","orange","red"], "range": ["#131722","#26A69A","#2962FF","#7E57C2","#F57C00","#F23645"]}, "legend": null}
          }
        },
        {
          "data": {"name": "rtag1"},
          "mark": {"type": "point", "shape": "M-1,-0.356H1V0.356H-1Z", "filled": true, "opacity": 1, "strokeWidth": 0, "xOffset": 22.5},
          "encoding": {"x": {"value": "width"}, "y": {"field": "v", "type": "quantitative"}, "size": {"value": 2025}, "color": {"field": "role", "type": "nominal", "legend": null}}
        },
        {
          "data": {"name": "rtag2"},
          "mark": {"type": "point", "shape": "M-1,-0.356H1V0.356H-1Z", "filled": true, "opacity": 1, "strokeWidth": 0, "xOffset": 22.5, "yOffset": 14},
          "encoding": {"x": {"value": "width"}, "y": {"field": "v", "type": "quantitative"}, "size": {"value": 2025}, "color": {"field": "role", "type": "nominal", "legend": null}}
        },
        {
          "data": {"name": "rtag1"},
          "mark": {"type": "text", "align": "center", "baseline": "middle", "dx": 22.5, "fontSize": 11, "fontWeight": "bold", "color": "#ffffff", "font": "Roboto"},
          "encoding": {"x": {"value": "width"}, "y": {"field": "v", "type": "quantitative"}, "text": {"field": "t"}}
        },
        {
          "data": {"name": "rtag2"},
          "mark": {"type": "text", "align": "center", "baseline": "middle", "dx": 22.5, "dy": 14, "fontSize": 11, "fontWeight": "bold", "color": "#ffffff", "font": "Roboto"},
          "encoding": {"x": {"value": "width"}, "y": {"field": "v", "type": "quantitative"}, "text": {"field": "t"}}
        }
      ]
    }
  ]
}
